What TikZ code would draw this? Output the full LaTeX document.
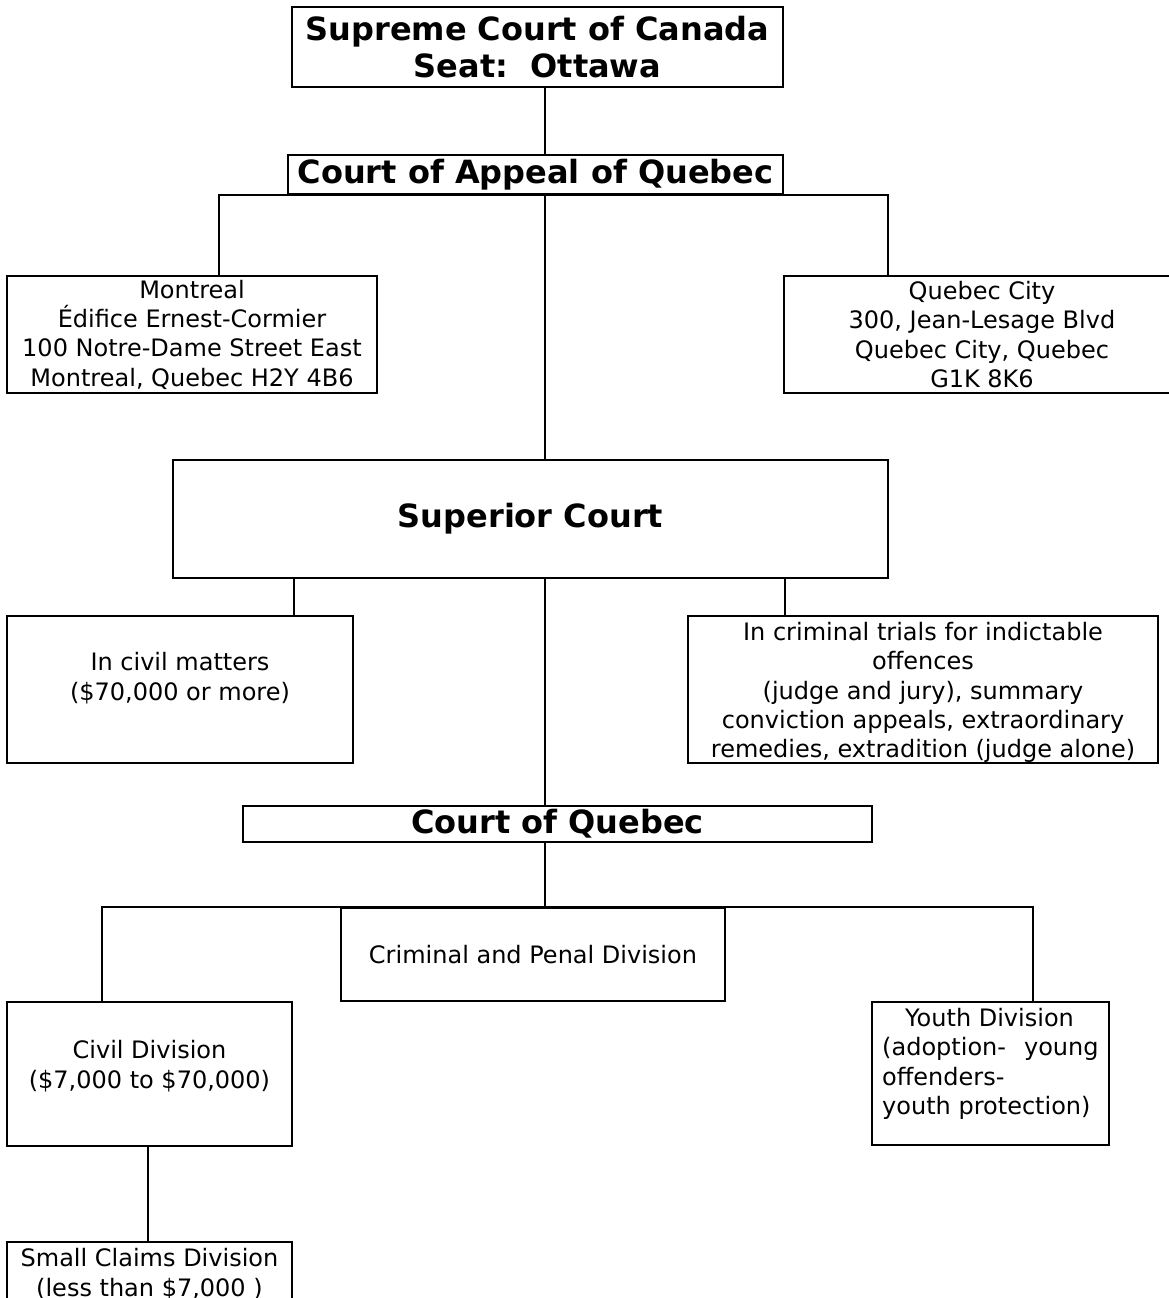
\documentclass[tikz,border=0pt]{standalone}
\usepackage{fontspec}
\setmainfont{DejaVu Sans}
\begin{document}
\begin{tikzpicture}[x=1pt,y=-1pt,
  box/.style={draw, line width=2.6pt, inner sep=0pt, align=center},
  conn/.style={line width=2pt},
  txt/.style={font=\fontsize{24}{29.3}\selectfont},
  ttl/.style={font=\fontsize{32}{37}\selectfont\bfseries},
  lbl/.style={inner sep=0pt, align=center, txt}]
\useasboundingbox (0,0) rectangle (1169,1298);
% x positions of connectors
\coordinate (xC) at (545,0);
\coordinate (xL) at (219,0);
\coordinate (xR) at (888,0);
\coordinate (xSL) at (294,0);
\coordinate (xSR) at (785,0);
\coordinate (xQL) at (102,0);
\coordinate (xQR) at (1033,0);
\coordinate (xCS) at (148,0);
% boxes
\node[box, ttl, minimum width=491, minimum height=80] (sup) at (537.5,47) {Supreme Court of Canada\\Seat:\ \ Ottawa};
\node[box, ttl, minimum width=495, minimum height=39] (app) at (535.5,174.5) {Court of Appeal of Quebec};
\node[box, txt, minimum width=370, minimum height=117] (mtl) at (192,334.5) {Montreal\\Édifice Ernest-Cormier\\100 Notre-Dame Street East\\Montreal, Quebec H2Y 4B6};
\node[box, txt, minimum width=396, minimum height=117] (qc) at (982,334.5) {Quebec City\\300, Jean-Lesage Blvd\\Quebec City, Quebec\\G1K 8K6};
\node[box, ttl, minimum width=715, minimum height=118] (sc) at (530.5,519) {Superior Court};
\node[box, minimum width=346, minimum height=147] (cm) at (180,689.5) {};
\node[lbl] at (180,678) {In civil matters\\(\$70,000 or more)};
\node[box, minimum width=470, minimum height=147] (cr) at (923,689.5) {};
\node[lbl] at (923,692.5) {In criminal trials for indictable\\offences\\(judge and jury), summary\\conviction appeals, extraordinary\\remedies, extradition (judge alone)};
\node[box, ttl, minimum width=629, minimum height=36] (cq) at (557.5,824) {Court of Quebec};
\node[box, txt, minimum width=384, minimum height=93] (cp) at (533,954.5) {Criminal and Penal Division};
\node[box, minimum width=285, minimum height=144] (civ) at (149.5,1074) {};
\node[lbl] at (149.5,1066) {Civil Division\\(\$7,000 to \$70,000)};
\node[box, minimum width=237, minimum height=143] (yth) at (990.5,1073.5) {};
\node[inner sep=0pt, align=left, txt, anchor=north west] at (882,1008) {\hspace*{23pt}Youth Division\\(adoption-\hspace{18pt}young\\offenders-\\youth protection)};
\node[box, minimum width=285, minimum height=68] (scl) at (149.5,1276) {};
\node[lbl] at (149.5,1274) {Small Claims Division\\(less than \$7,000 )};
% connectors
\draw[conn] (sup.south -| xC) -- (app.north -| xC);
\draw[conn] (mtl.north -| xL) |- (app.south -| xC) -| (qc.north -| xR);
\draw[conn] (app.south -| xC) -- (sc.north -| xC);
\draw[conn] (sc.south -| xSL) -- (cm.north -| xSL);
\draw[conn] (sc.south -| xSR) -- (cr.north -| xSR);
\draw[conn] (sc.south -| xC) -- (cq.north -| xC);
\draw[conn] (cq.south -| xC) -- (cp.north -| xC);
\draw[conn] (civ.north -| xQL) |- (cp.north) -| (yth.north -| xQR);
\draw[conn] (civ.south -| xCS) -- (scl.north -| xCS);
\end{tikzpicture}
\end{document}
